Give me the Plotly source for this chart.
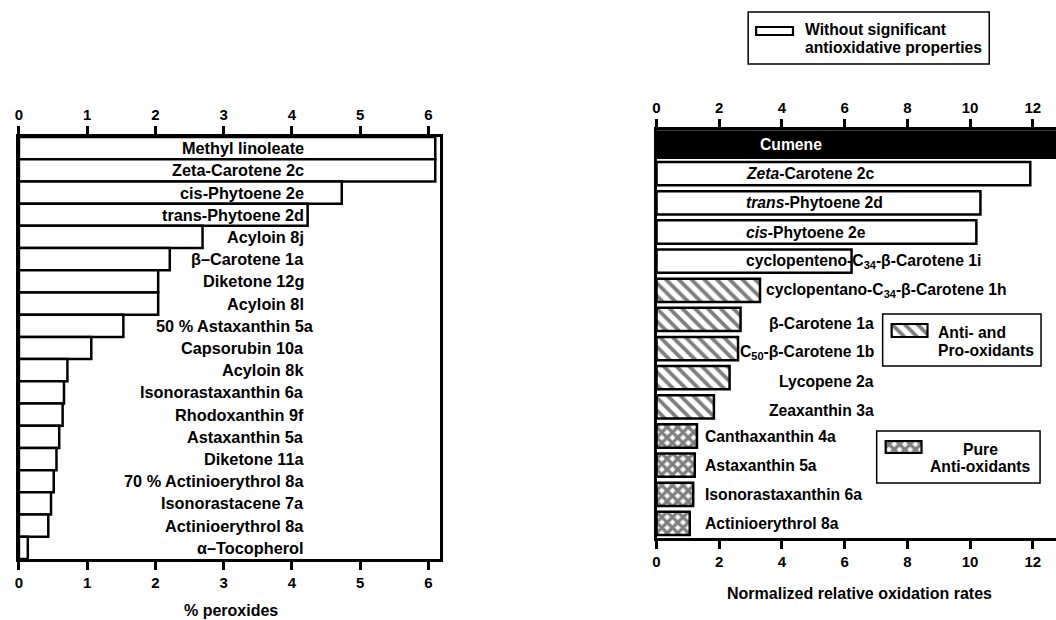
import plotly.graph_objects as go

W, H = 1056, 620


def px(x):
    return x / W


def py(y):
    return 1 - y / H


FONT = "Liberation Sans, Arial, Helvetica, sans-serif"

# ---------------- left panel: % peroxides ----------------
perox_names = [
    "Methyl linoleate", "Zeta-Carotene 2c", "cis-Phytoene 2e", "trans-Phytoene 2d",
    "Acyloin 8j", "β–Carotene 1a", "Diketone 12g", "Acyloin 8l",
    "50 % Astaxanthin 5a", "Capsorubin 10a", "Acyloin 8k", "Isonorastaxanthin 6a",
    "Rhodoxanthin 9f", "Astaxanthin 5a", "Diketone 11a", "70 % Actinioerythrol 8a",
    "Isonorastacene 7a", "Actinioerythrol 8a", "α–Tocopherol",
]
perox_values = [
    6.10, 6.10, 4.73, 4.23,
    2.69, 2.21, 2.04, 2.04,
    1.53, 1.06, 0.71, 0.66,
    0.64, 0.59, 0.55, 0.51,
    0.47, 0.43, 0.13,
]
perox_ticks = [0, 1, 2, 3, 4, 5, 6]

# ---------------- right panel: normalized relative oxidation rates ----------------
rate_names = [
    "Cumene", "Zeta-Carotene 2c", "trans-Phytoene 2d", "cis-Phytoene 2e",
    "cyclopenteno-C34-β-Carotene 1i", "cyclopentano-C34-β-Carotene 1h",
    "β-Carotene 1a", "C50-β-Carotene 1b", "Lycopene 2a", "Zeaxanthin 3a",
    "Canthaxanthin 4a", "Astaxanthin 5a", "Isonorastaxanthin 6a", "Actinioerythrol 8a",
]
rate_labels = [
    "Cumene", "<i>Zeta</i>-Carotene 2c", "<i>trans</i>-Phytoene 2d", "<i>cis</i>-Phytoene 2e",
    "cyclopenteno-C<sub>34</sub>-β-Carotene 1i", "cyclopentano-C<sub>34</sub>-β-Carotene 1h",
    "β-Carotene 1a", "C<sub>50</sub>-β-Carotene 1b", "Lycopene 2a", "Zeaxanthin 3a",
    "Canthaxanthin 4a", "Astaxanthin 5a", "Isonorastaxanthin 6a", "Actinioerythrol 8a",
]
rate_values = [
    13.6, 11.92, 10.33, 10.20,
    6.22, 3.30,
    2.68, 2.60, 2.33, 1.83,
    1.29, 1.22, 1.17, 1.06,
]
rate_groups = [
    "reference", "inactive", "inactive", "inactive",
    "inactive", "antipro",
    "antipro", "antipro", "antipro", "antipro",
    "pure", "pure", "pure", "pure",
]
rate_ticks = [0, 2, 4, 6, 8, 10, 12]

legend_texts = {
    "inactive": ["Without significant", "antioxidative properties"],
    "antipro": ["Anti- and", "Pro-oxidants"],
    "pure": ["Pure", "Anti-oxidants"],
}

OUTLINE = dict(color="black", width=2.5)
STYLES = {
    "reference": dict(color="black", line=OUTLINE),
    "inactive": dict(color="white", line=OUTLINE),
    "antipro": dict(color="white", line=OUTLINE,
                    pattern=dict(shape="\\", fgcolor="black", bgcolor="white",
                                 size=9, solidity=0.42)),
    "pure": dict(color="white", line=OUTLINE,
                 pattern=dict(shape="x", fgcolor="black", bgcolor="white",
                              size=7.5, solidity=0.68)),
}

fig = go.Figure()

# left bars
fig.add_trace(go.Bar(
    x=perox_values, y=perox_names, orientation="h", width=1.0,
    marker=dict(color="white", line=OUTLINE),
    xaxis="x", yaxis="y", hoverinfo="x+y",
))
# helper trace so the top axis of the left panel is drawn
fig.add_trace(go.Scatter(x=[0], y=[perox_names[0]], xaxis="x2", yaxis="y",
                         mode="markers", marker=dict(opacity=0), hoverinfo="skip"))

# right bars, one trace per group
for grp in ["reference", "inactive", "antipro", "pure"]:
    idx = [i for i, g in enumerate(rate_groups) if g == grp]
    fig.add_trace(go.Bar(
        x=[rate_values[i] for i in idx], y=[rate_names[i] for i in idx],
        orientation="h", width=0.9 if grp == "reference" else 0.8,
        marker=STYLES[grp], xaxis="x3", yaxis="y3", hoverinfo="x+y",
    ))
fig.add_trace(go.Scatter(x=[0], y=[rate_names[0]], xaxis="x4", yaxis="y3",
                         mode="markers", marker=dict(opacity=0), hoverinfo="skip"))

# legend swatches, each drawn on its own tiny axis pair
swatches = {
    "inactive": (755, 792, 27, 35),
    "antipro": (891, 927, 324, 337),
    "pure": (885, 921, 441, 453),
}
hidden = dict(visible=False, fixedrange=True)
for k, (grp, (x0, x1, y0, y1)) in enumerate(swatches.items()):
    n = 5 + k
    pad = 2
    fig.add_trace(go.Bar(
        x=[1], y=[0], orientation="h", width=1.0,
        marker={**STYLES[grp], "line": dict(color="black", width=2.2)},
        xaxis=f"x{n}", yaxis=f"y{n}", hoverinfo="skip",
    ))
    wpx, hpx = x1 - x0, y1 - y0
    fig.layout[f"xaxis{n}"] = dict(hidden, domain=[px(x0 - pad), px(x1 + pad)],
                                    range=[-pad / wpx, 1 + pad / wpx], anchor=f"y{n}")
    fig.layout[f"yaxis{n}"] = dict(hidden, domain=[py(y1 + pad), py(y0 - pad)],
                                    range=[-0.5 - pad / hpx, 0.5 + pad / hpx], anchor=f"x{n}")

tickfont = dict(family=FONT, size=15, color="black", weight="bold")
xcommon = dict(showgrid=False, zeroline=False, showline=True, linecolor="black",
               linewidth=2.5, ticks="outside", ticklen=8, tickwidth=2.5,
               tickcolor="black", tickfont=tickfont, fixedrange=True)

left_range = [0, 6.17]
right_range = [0, 12.74]

fig.update_layout(
    width=W, height=H, margin=dict(l=0, r=0, t=0, b=0),
    paper_bgcolor="white", plot_bgcolor="white", showlegend=False,
    font=dict(family=FONT, size=15.5, color="black"),
    xaxis=dict(xcommon, domain=[px(15), px(437.7)], range=left_range,
               tickvals=perox_ticks, side="bottom", anchor="y"),
    xaxis2=dict(xcommon, domain=[px(15), px(437.7)], range=left_range,
                tickvals=perox_ticks, side="top", anchor="y", overlaying="x"),
    yaxis=dict(domain=[py(559), py(137)], type="category",
               categoryarray=perox_names, categoryorder="array",
               range=[len(perox_names) - 0.5, -0.5],
               showticklabels=False, ticks="",
               showgrid=False, zeroline=False, showline=True, mirror=True,
               linecolor="black", linewidth=2.5, anchor="x", fixedrange=True),
    xaxis3=dict(xcommon, domain=[px(655), 1.0], range=right_range,
                tickvals=rate_ticks, side="top", anchor="y3"),
    xaxis4=dict(xcommon, domain=[px(655), 1.0], range=right_range,
                tickvals=rate_ticks, side="bottom", anchor="y3", overlaying="x3"),
    yaxis3=dict(domain=[py(538), py(130)], type="category",
                categoryarray=rate_names, categoryorder="array",
                range=[len(rate_names) - 0.5, -0.5],
                showticklabels=False, ticks="",
                showgrid=False, zeroline=False, showline=True,
                linecolor="black", linewidth=2.5, anchor="x3", fixedrange=True),
)

left_font = dict(family=FONT, size=16.3, color="black", weight="bold")
right_font = dict(family=FONT, size=15.7, color="black", weight="bold")
title_font = dict(family=FONT, size=16, color="black", weight="bold")
ann = []

# left bar labels (right-aligned)
for name in perox_names:
    xr = 4.35 if name.startswith("50 %") else 4.20
    ann.append(dict(x=xr, y=name, xref="x", yref="y", text=name, showarrow=False,
                    xanchor="right", yanchor="middle", font=left_font))

# right bar labels
for name, lab, grp in zip(rate_names, rate_labels, rate_groups):
    d = dict(y=name, xref="x3", yref="y3", text=lab, showarrow=False,
             yanchor="middle", font=right_font)
    if grp == "reference":
        d.update(x=3.24, xanchor="left", font=dict(right_font, color="white"))
    elif grp == "inactive":
        d.update(x=2.80, xanchor="left")
    elif name.startswith("cyclopentano"):
        d.update(x=3.43, xanchor="left")
    elif grp == "antipro":
        d.update(x=6.99, xanchor="right", yshift=-4)
    else:
        d.update(x=1.49, xanchor="left")
    ann.append(d)

# axis titles
ann.append(dict(x=px(228), y=py(610), xref="paper", yref="paper", text="% peroxides",
                showarrow=False, xanchor="center", yanchor="middle", font=title_font))
ann.append(dict(x=px(859), y=py(593), xref="paper", yref="paper",
                text="Normalized relative oxidation rates",
                showarrow=False, xanchor="center", yanchor="middle", font=title_font))

# legend box texts
t1, t2 = legend_texts["inactive"]
ann.append(dict(x=px(802), y=py(30), xref="paper", yref="paper", text=t1, showarrow=False,
                xanchor="left", yanchor="middle", font=right_font))
ann.append(dict(x=px(802), y=py(47), xref="paper", yref="paper", text=t2, showarrow=False,
                xanchor="left", yanchor="middle", font=right_font))
t1, t2 = legend_texts["antipro"]
ann.append(dict(x=px(936), y=py(332), xref="paper", yref="paper", text=t1, showarrow=False,
                xanchor="left", yanchor="middle", font=right_font))
ann.append(dict(x=px(936), y=py(350), xref="paper", yref="paper", text=t2, showarrow=False,
                xanchor="left", yanchor="middle", font=right_font))
t1, t2 = legend_texts["pure"]
ann.append(dict(x=px(980), y=py(449), xref="paper", yref="paper", text=t1, showarrow=False,
                xanchor="center", yanchor="middle", font=right_font))
ann.append(dict(x=px(980), y=py(467), xref="paper", yref="paper", text=t2, showarrow=False,
                xanchor="center", yanchor="middle", font=right_font))

fig.update_layout(annotations=ann)

# legend frames
boxes = [(747, 989, 12, 64), (882, 1041, 314, 366), (876, 1040, 431, 483)]
for x0, x1, y0, y1 in boxes:
    fig.add_shape(type="rect", xref="paper", yref="paper",
                  x0=px(x0), x1=px(x1), y0=py(y1), y1=py(y0),
                  line=dict(color="black", width=1.5), fillcolor="rgba(0,0,0,0)")

fig.write_html("out.html")
